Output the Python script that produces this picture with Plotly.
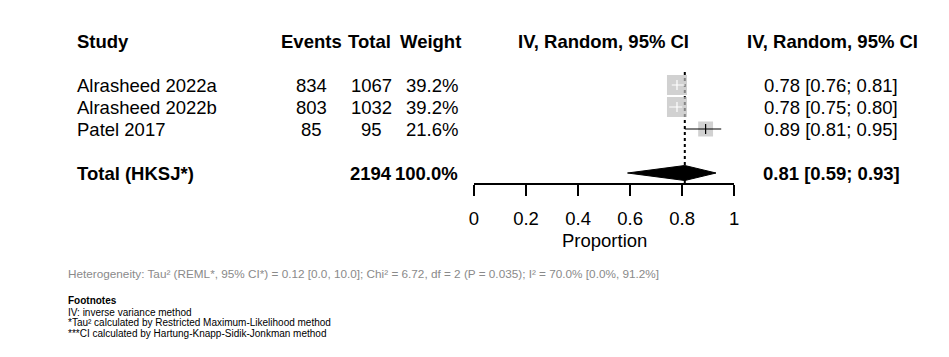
import plotly.graph_objects as go
import math

# ---------------- data ----------------
studies = ["Alrasheed 2022a", "Alrasheed 2022b", "Patel 2017"]
events = [834, 803, 85]
totals = [1067, 1032, 95]
weights = [39.2, 39.2, 21.6]
est = [0.78, 0.78, 0.89]
lower = [0.76, 0.75, 0.81]
upper = [0.81, 0.80, 0.95]
pooled_label = "Total (HKSJ*)"
pooled_total = 2194
pooled_weight = 100.0
pooled_est = 0.81
pooled_lower = 0.59
pooled_upper = 0.93
x_ticks = [0, 0.2, 0.4, 0.6, 0.8, 1]
x_ticklabels = ["0", "0.2", "0.4", "0.6", "0.8", "1"]
headers = ["Study", "Events", "Total", "Weight", "IV, Random, 95% CI", "IV, Random, 95% CI"]
heterogeneity = ("Heterogeneity: Tau² (REML*, 95% CI*) = 0.12 [0.0, 10.0]; Chi² = 6.72, df = 2 "
                 "(P = 0.035); I² = 70.0% [0.0%, 91.2%]")
footnotes_title = "Footnotes"
footnotes = ["IV: inverse variance method",
             "*Tau² calculated by Restricted Maximum-Likelihood method",
             "***CI calculated by Hartung-Knapp-Sidik-Jonkman method"]

# ---------------- layout geometry ----------------
W, H = 949, 357
ROW0 = 41.0   # pixel y of header row
RH = 22.0     # row height in px
def row_of(py):
    return (py - ROW0) / RH
def px(x):
    return x / W

FONT = "Liberation Sans, Arial, Helvetica, sans-serif"
FS = 18.5
LEFT = 72
FOOT_LEFT = 63

study_rows = [2, 3, 4]
total_row = 6

fig = go.Figure()

# dotted reference line at pooled estimate
fig.add_trace(go.Scatter(x=[pooled_est, pooled_est], y=[row_of(72), row_of(184)],
                         mode="lines", line=dict(color="black", width=2, dash="dot"),
                         hoverinfo="skip", showlegend=False))

# squares
sizes = [3.2 * math.sqrt(w) for w in weights]
fig.add_trace(go.Scatter(x=est, y=study_rows, mode="markers",
                         marker=dict(symbol="square", size=sizes, color="#bdbdbd",
                                     line=dict(width=0)),
                         hoverinfo="skip", showlegend=False))

# CI lines
for i in range(len(studies)):
    half = sizes[i] / 2 / 262.7
    inside = lower[i] >= est[i] - half and upper[i] <= est[i] + half
    col = "white" if inside else "black"
    fig.add_trace(go.Scatter(x=[lower[i], upper[i]], y=[study_rows[i]] * 2, mode="lines",
                             line=dict(color=col, width=1.2), hoverinfo="skip", showlegend=False))
    fig.add_trace(go.Scatter(x=[est[i]], y=[study_rows[i]], mode="markers",
                             marker=dict(symbol="line-ns", size=7,
                                         line=dict(color=col, width=1.2)),
                             hoverinfo="skip", showlegend=False))

# diamond
hh = 7.5 / RH
fig.add_trace(go.Scatter(x=[pooled_lower, pooled_est, pooled_upper, pooled_est, pooled_lower],
                         y=[total_row, total_row - hh, total_row, total_row + hh, total_row],
                         mode="lines", fill="toself", fillcolor="black",
                         line=dict(color="black", width=1), hoverinfo="skip", showlegend=False))

ann = []
def add_text(x, row, text, anchor="left", bold=False, size=FS, color="black"):
    t = f"<b>{text}</b>" if bold else text
    ann.append(dict(x=px(x), y=row, xref="paper", yref="y", text=t, showarrow=False,
                    xanchor=anchor, yanchor="middle", borderpad=0,
                    font=dict(family=FONT, size=size, color=color)))

# headers
add_text(LEFT, 0, headers[0], "left", True)
add_text(310, 0, headers[1], "center", True)
add_text(368, 0, headers[2], "center", True)
add_text(430, 0, headers[3], "center", True)
add_text(605, 0, headers[4], "center", True)
add_text(836, 0, headers[5], "center", True)

for i, s in enumerate(studies):
    r = study_rows[i]
    add_text(LEFT, r, s, "left")
    add_text(310, r, str(events[i]), "center")
    add_text(370, r, str(totals[i]), "center")
    add_text(459, r, f"{weights[i]:.1f}%", "right")
    add_text(835, r, f"{est[i]:.2f} [{lower[i]:.2f}; {upper[i]:.2f}]", "center")

add_text(LEFT, total_row, pooled_label, "left", True)
add_text(370, total_row, str(pooled_total), "center", True)
add_text(459, total_row, f"{pooled_weight:.1f}%", "right", True)
add_text(835, total_row, f"{pooled_est:.2f} [{pooled_lower:.2f}; {pooled_upper:.2f}]", "center", True)

# axis title
add_text(605.5, row_of(240), "Proportion", "center")

# heterogeneity & footnotes
add_text(FOOT_LEFT, row_of(273), heterogeneity, "left", size=11.75, color="#8a8a8a")
add_text(FOOT_LEFT, row_of(300), footnotes_title, "left", True, size=10)
for k, f in enumerate(footnotes):
    add_text(FOOT_LEFT, row_of(312 + 10.8 * k), f, "left", size=10)

fig.update_layout(
    width=W, height=H, margin=dict(l=0, r=0, t=0, b=0),
    paper_bgcolor="white", plot_bgcolor="white",
    annotations=ann, showlegend=False,
    xaxis=dict(domain=[474 / W, 737 / W], range=[0, 1], anchor="free",
               position=(H - 184) / H, showline=True, linecolor="black", linewidth=1.5,
               ticks="outside", ticklen=11, tickwidth=1.5, tickcolor="black",
               ticklabelstandoff=7,
               tickvals=x_ticks, ticktext=x_ticklabels, showgrid=False, zeroline=False,
               tickfont=dict(family=FONT, size=FS, color="black")),
    yaxis=dict(domain=[0, 1], range=[row_of(H), row_of(0)], visible=False,
               showgrid=False, zeroline=False),
)

fig.write_html("out.html", config={"displayModeBar": False},
               post_script="document.body.style.margin='0';")
